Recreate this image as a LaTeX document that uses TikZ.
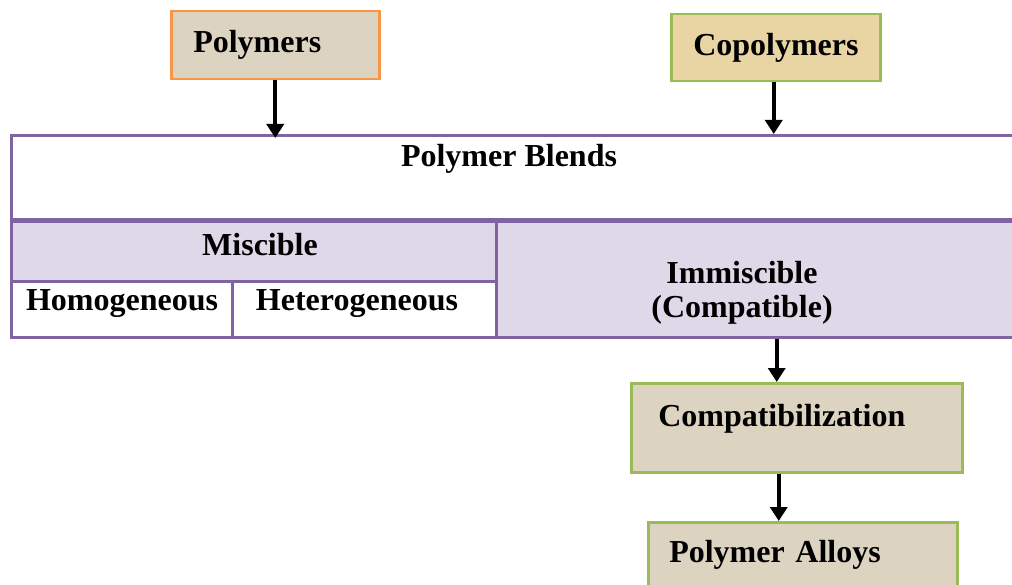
\documentclass[tikz,border=0pt]{standalone}
\usepackage{fontspec}
\setmainfont{Liberation Serif}
\usetikzlibrary{arrows.meta,calc}
\definecolor{purp}{HTML}{8064A2}
\definecolor{lav}{HTML}{DFD8E8}
\definecolor{orng}{HTML}{F79646}
\definecolor{grn}{HTML}{9BBB59}
\definecolor{beige}{HTML}{DCD3C1}
\definecolor{tan}{HTML}{E9D5A3}
\tikzset{
  txt/.style={font=\bfseries\fontsize{32}{34}\selectfont, inner sep=0pt, align=center},
  box/.style={draw, line width=2.5pt, font=\bfseries\fontsize{32}{34}\selectfont, align=left, anchor=north west, text height=22pt, text depth=7pt},
  cell/.style={draw=purp, line width=3pt, anchor=north west, inner sep=0pt},
  arr/.style={line width=3.8pt, -{Triangle[width=17pt,length=14pt]}},
}
\begin{document}
\begin{tikzpicture}[x=1pt,y=-1pt]
\clip (0,0) rectangle (1012,585);
\fill[white] (0,0) rectangle (1012,585);
% top boxes
\node[box, draw=orng, fill=beige, minimum width=208pt, minimum height=68pt, inner xsep=22pt, text width=164pt] (poly) at (170,10) {Polymers};
\node[box, draw=grn, fill=tan, minimum width=209pt, minimum height=67pt, inner xsep=22pt, text width=165pt, align=center] (copoly) at (670,13) {Copolymers};
% table
\node[cell, fill=white, minimum width=1010pt, minimum height=84pt] (blends) at (10,134) {};
\node[cell, fill=lav, minimum width=485pt, minimum height=62pt] (misc) at (10,218) {};
\node[cell, fill=white, minimum width=221pt, minimum height=56pt] (homo) at (10,280) {};
\node[cell, fill=white, minimum width=264pt, minimum height=56pt] (hetero) at (231,280) {};
\node[cell, fill=lav, minimum width=525pt, minimum height=118pt] (immis) at (495,218) {};
\draw[purp, line width=5pt] (blends.south west) -- (blends.south east);
% table texts
\node[txt] (tblends) at (509,159) {Polymer Blends};
\node[txt] (tmisc) at (260,245) {Miscible};
\node[txt] (thomo) at (122,304) {Homogeneous};
\node[txt] (thetero) at (357,304) {Heterogeneous};
\node[txt] (timmis) at (742,293) {Immiscible\\(Compatible)};
% lower boxes
\node[box, draw=grn, fill=beige, minimum width=331pt, minimum height=89pt, inner xsep=27pt, text width=277pt, text depth=25pt] (compat) at (630,382) {Compatibilization};
\node[box, draw=grn, fill=beige, minimum width=309pt, minimum height=80pt, inner xsep=21pt, text width=267pt, text depth=22pt] (alloy) at (647,521) {Polymer Alloys};
% arrows
\draw[arr] (poly.south) -- ([yshift=-4pt]poly.south |- blends.north);
\draw[arr] ([xshift=-2pt]copoly.south) -- ([xshift=-2pt]copoly.south |- blends.north);
\draw[arr] ([xshift=-20pt]compat.north |- immis.south) -- ([xshift=-20pt]compat.north);
\draw[arr] ([xshift=-18pt]compat.south) -- ([xshift=-18pt]compat.south |- alloy.north);
\end{tikzpicture}
\end{document}
